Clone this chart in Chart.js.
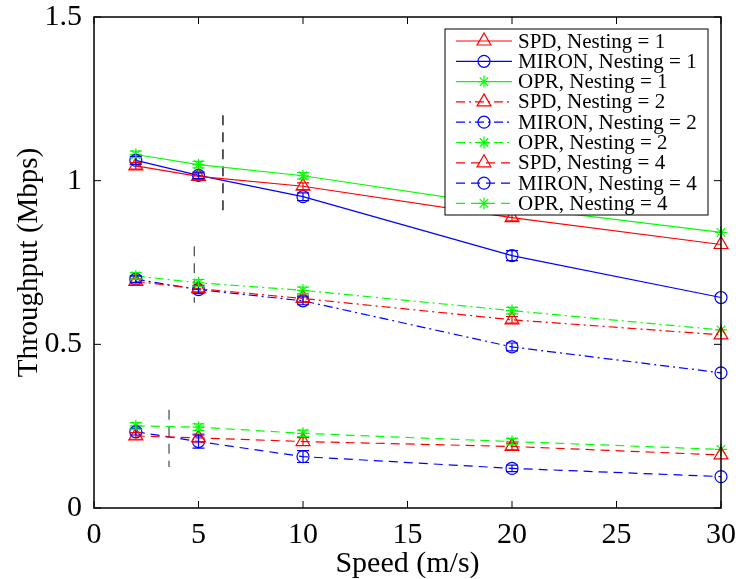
<!DOCTYPE html>
<html>
<head>
<meta charset="utf-8">
<script src="https://cdn.jsdelivr.net/npm/chart.js@4.4.0/dist/chart.umd.min.js"></script>
<style>
  body { margin: 0; background: #fff; }
</style>
</head>
<body>
<canvas id="tput" width="736" height="579"></canvas>
<script>
// speed values (m/s) and tick labels
var speeds = [2, 5, 10, 20, 30];
var xTicks = [0, 5, 10, 15, 20, 25, 30];
var yTicks = [0, 0.5, 1, 1.5];

// throughput (Mbps)
var spd1   = [1.045, 1.013, 0.983, 0.887, 0.805];
var miron1 = [1.062, 1.016, 0.951, 0.771, 0.643];
var opr1   = [1.080, 1.049, 1.015, 0.920, 0.842];
var spd2   = [0.692, 0.670, 0.640, 0.575, 0.529];
var miron2 = [0.699, 0.667, 0.633, 0.492, 0.413];
var opr2   = [0.709, 0.688, 0.665, 0.603, 0.544];
var spd4   = [0.220, 0.214, 0.203, 0.188, 0.162];
var miron4 = [0.233, 0.203, 0.157, 0.121, 0.096];
var opr4   = [0.251, 0.247, 0.228, 0.203, 0.179];

// error bar half-heights
var errSpd1   = [0.010, 0.010, 0.010, 0.010, 0];
var errMiron1 = [0.012, 0.010, 0.012, 0.015, 0];
var errOpr1   = [0.010, 0.010, 0.010, 0.010, 0];
var errSpd2   = [0.008, 0.010, 0.010, 0.010, 0];
var errMiron2 = [0.010, 0.012, 0.012, 0.012, 0];
var errOpr2   = [0.010, 0.010, 0.010, 0.010, 0];
var errSpd4   = [0.010, 0.012, 0.012, 0.010, 0];
var errMiron4 = [0.010, 0.020, 0.018, 0.010, 0];
var errOpr4   = [0.010, 0.010, 0.010, 0.010, 0];

// the three vertical dashed guide lines
var guideX      = [6.17, 4.80, 3.59];
var guideTop    = [1.20, 0.80, 0.30];
var guideBottom = [0.90, 0.627, 0.125];

var RED = "#ff0000", BLUE = "#0000ff", GREEN = "#00ff00";
var SOLID = [], DASHDOT = [9, 4, 2, 4], DASHED = [9, 6];
var FONT = "'Liberation Serif', 'Times New Roman', serif";
var RADIUS = { triangle: 8, circle: 6, star: 6 };

function pts(vals){
  return vals.map(function(v, i){ return {x: speeds[i], y: v}; });
}

function series(label, vals, err, color, style, dash){
  return {
    label: label,
    data: pts(vals),
    err: err,
    borderColor: color,
    backgroundColor: "rgba(0,0,0,0)",
    borderWidth: 1.2,
    borderDash: dash,
    pointStyle: style,
    pointRadius: RADIUS[style],
    pointBorderColor: color,
    pointBorderWidth: 1.2,
    pointBackgroundColor: "rgba(0,0,0,0)",
    fill: false,
    tension: 0,
    clip: false
  };
}

var datasets = [
  series("SPD, Nesting = 1",   spd1,   errSpd1,   RED,   "triangle", SOLID),
  series("MIRON, Nesting = 1", miron1, errMiron1, BLUE,  "circle",   SOLID),
  series("OPR, Nesting = 1",   opr1,   errOpr1,   GREEN, "star",     SOLID),
  series("SPD, Nesting = 2",   spd2,   errSpd2,   RED,   "triangle", DASHDOT),
  series("MIRON, Nesting = 2", miron2, errMiron2, BLUE,  "circle",   DASHDOT),
  series("OPR, Nesting = 2",   opr2,   errOpr2,   GREEN, "star",     DASHDOT),
  series("SPD, Nesting = 4",   spd4,   errSpd4,   RED,   "triangle", DASHED),
  series("MIRON, Nesting = 4", miron4, errMiron4, BLUE,  "circle",   DASHED),
  series("OPR, Nesting = 4",   opr4,   errOpr4,   GREEN, "star",     DASHED)
];
var nSeries = datasets.length;

var guideColors = ["#000000", "#555555", "#555555"];
guideX.forEach(function(gx, i){
  datasets.push({
    label: "guide" + i,
    data: [{x: gx, y: guideTop[i]}, {x: gx, y: guideBottom[i]}],
    borderColor: guideColors[i],
    borderWidth: 1.3,
    borderDash: [10, 7],
    pointRadius: 0,
    fill: false,
    clip: false
  });
});

// error bars, drawn through the scales
var errorBars = {
  id: "errorBars",
  afterDatasetsDraw: function(chart){
    var ctx = chart.ctx, xs = chart.scales.x, ys = chart.scales.y;
    ctx.save();
    for (var d = 0; d < nSeries; d++){
      var ds = chart.data.datasets[d];
      ctx.strokeStyle = ds.borderColor;
      ctx.lineWidth = 1.2;
      ctx.setLineDash([]);
      ds.data.forEach(function(p, i){
        var e = ds.err[i];
        if (!e) return;
        var px = xs.getPixelForValue(p.x);
        var top = ys.getPixelForValue(p.y + e), bot = ys.getPixelForValue(p.y - e);
        ctx.beginPath();
        ctx.moveTo(px, top); ctx.lineTo(px, bot);
        ctx.moveTo(px - 6, top); ctx.lineTo(px + 6, top);
        ctx.moveTo(px - 6, bot); ctx.lineTo(px + 6, bot);
        ctx.stroke();
      });
    }
    ctx.restore();
  }
};

// matlab-style box, inward ticks and legend
var boxAndLegend = {
  id: "boxAndLegend",
  afterDraw: function(chart){
    var ctx = chart.ctx, a = chart.chartArea;
    var xs = chart.scales.x, ys = chart.scales.y;
    ctx.save();
    ctx.setLineDash([]);
    ctx.strokeStyle = "#000";
    ctx.lineWidth = 1.5;
    ctx.strokeRect(a.left, a.top, a.right - a.left, a.bottom - a.top);
    ctx.lineWidth = 1;
    ctx.beginPath();
    xTicks.forEach(function(v){
      var px = xs.getPixelForValue(v);
      ctx.moveTo(px, a.bottom); ctx.lineTo(px, a.bottom - 7);
      ctx.moveTo(px, a.top); ctx.lineTo(px, a.top + 7);
    });
    yTicks.forEach(function(v){
      var py = ys.getPixelForValue(v);
      ctx.moveTo(a.left, py); ctx.lineTo(a.left + 7, py);
      ctx.moveTo(a.right, py); ctx.lineTo(a.right - 7, py);
    });
    ctx.stroke();

    // legend
    var lx = 445, ly = 29, lw = 263, lh = 186, rowH = 20.3;
    ctx.fillStyle = "#fff";
    ctx.fillRect(lx, ly, lw, lh);
    ctx.strokeStyle = "#000";
    ctx.lineWidth = 1;
    ctx.strokeRect(lx, ly, lw, lh);
    ctx.font = "21px " + FONT;
    ctx.textBaseline = "middle";
    for (var d = 0; d < nSeries; d++){
      var ds = chart.data.datasets[d];
      var cy = ly + 12 + d * rowH;
      ctx.strokeStyle = ds.borderColor;
      ctx.lineWidth = 1.2;
      ctx.setLineDash(ds.borderDash);
      ctx.beginPath();
      ctx.moveTo(456, cy); ctx.lineTo(512, cy);
      ctx.stroke();
      ctx.setLineDash([]);
      ctx.fillStyle = "rgba(0,0,0,0)";
      Chart.helpers.drawPoint(ctx, {pointStyle: ds.pointStyle, radius: RADIUS[ds.pointStyle], borderWidth: 1.2, rotation: 0}, 484, cy);
      ctx.fillStyle = "#000";
      ctx.fillText(ds.label, 518, cy + 1);
    }
    ctx.restore();
  }
};

new Chart(document.getElementById("tput"), {
  type: "line",
  data: { datasets: datasets },
  options: {
    responsive: false,
    animation: false,
    layout: { padding: 0 },
    plugins: {
      legend: { display: false },
      tooltip: { enabled: false }
    },
    scales: {
      x: {
        type: "linear",
        min: 0, max: 30,
        afterBuildTicks: function(s){ s.ticks = xTicks.map(function(v){ return {value: v}; }); },
        afterFit: function(s){ s.height = 71; s.paddingLeft = 0; s.paddingRight = 15; },
        grid: { display: false, drawTicks: false },
        border: { display: false },
        ticks: { color: "#000", padding: 9, maxRotation: 0, font: { family: FONT, size: 30 },
                 callback: function(v){ return String(v); } },
        title: { display: true, text: "Speed (m/s)", color: "#000", padding: 0,
                 font: { family: FONT, size: 30, lineHeight: 1 } }
      },
      y: {
        min: 0, max: 1.5,
        afterBuildTicks: function(s){ s.ticks = yTicks.map(function(v){ return {value: v}; }); },
        afterFit: function(s){ s.width = 94; s.paddingTop = 17; s.paddingBottom = 0; },
        grid: { display: false, drawTicks: false },
        border: { display: false },
        ticks: { color: "#000", padding: 12, font: { family: FONT, size: 30 },
                 callback: function(v){ return String(v); } },
        title: { display: true, text: "Throughput (Mbps)", color: "#000", padding: 15,
                 font: { family: FONT, size: 29, lineHeight: 1 } }
      }
    }
  },
  plugins: [errorBars, boxAndLegend]
});
</script>
</body>
</html>
